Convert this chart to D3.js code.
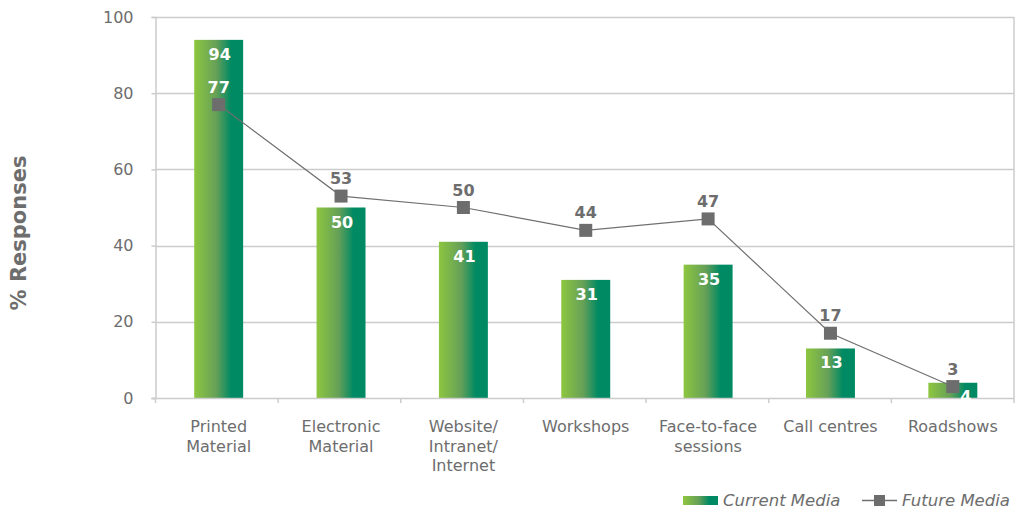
<!DOCTYPE html>
<html>
<head>
<meta charset="utf-8">
<script src="https://cdn.jsdelivr.net/npm/d3@7"></script>
<style>
  body { margin: 0; background: #fff; }
  text { font-family: "DejaVu Sans", Verdana, sans-serif; fill: #6d6d6d; }
</style>
</head>
<body>
<svg id="chart" width="1016" height="509"></svg>
<script>
const categories = [
  ["Printed", "Material"],
  ["Electronic", "Material"],
  ["Website/", "Intranet/", "Internet"],
  ["Workshops"],
  ["Face-to-face", "sessions"],
  ["Call centres"],
  ["Roadshows"]
];
const currentMedia = [94, 50, 41, 31, 35, 13, 4];
const futureMedia = [77, 53, 50, 44, 47, 17, 3];
const yTicks = [0, 20, 40, 60, 80, 100];

const width = 1016, height = 509;
const margin = { top: 17, right: 2, bottom: 111, left: 155.5 };
const grey = "#6d6d6d";
const gridColor = "#cccccc";

const svg = d3.select("#chart");

const defs = svg.append("defs");
const grad = defs.append("linearGradient").attr("id", "barGrad")
  .attr("x1", "0%").attr("x2", "100%").attr("y1", "0%").attr("y2", "0%");
grad.append("stop").attr("offset", "0%").attr("stop-color", "#8dc63f");
grad.append("stop").attr("offset", "45%").attr("stop-color", "#66a058");
grad.append("stop").attr("offset", "75%").attr("stop-color", "#008a63");
grad.append("stop").attr("offset", "100%").attr("stop-color", "#008a63");

const idx = d3.range(categories.length);

const xEdge = d3.scaleLinear()
  .domain([0, categories.length])
  .range([margin.left, width - margin.right]);

const x = d3.scaleBand()
  .domain(idx)
  .range([margin.left + 2, width - margin.right])
  .paddingInner(0.6)
  .paddingOuter(0.3);

const y = d3.scaleLinear()
  .domain([0, 100])
  .range([height - margin.bottom, margin.top]);

// gridlines
svg.append("g")
  .selectAll("line")
  .data(yTicks.filter(d => d > 0))
  .join("line")
  .attr("x1", margin.left)
  .attr("x2", width - margin.right)
  .attr("y1", d => Math.round(y(d)) + 0.5)
  .attr("y2", d => Math.round(y(d)) + 0.5)
  .attr("stroke", gridColor)
  .attr("stroke-width", 1.5);

// right border
svg.append("line")
  .attr("x1", width - margin.right).attr("x2", width - margin.right)
  .attr("y1", y(100)).attr("y2", y(0))
  .attr("stroke", gridColor).attr("stroke-width", 1.5);

// y axis
const yAxis = svg.append("g")
  .attr("transform", `translate(${margin.left},0)`)
  .call(d3.axisLeft(y).tickValues(yTicks).tickSize(4).tickPadding(18));
yAxis.select(".domain").attr("stroke", gridColor).attr("stroke-width", 1.5);
yAxis.selectAll(".tick line").attr("stroke", gridColor).attr("stroke-width", 1.5);
yAxis.selectAll(".tick text").attr("font-size", 16);

// bars
svg.append("g")
  .selectAll("rect")
  .data(currentMedia)
  .join("rect")
  .attr("x", (d, i) => x(i))
  .attr("y", d => y(d))
  .attr("width", x.bandwidth())
  .attr("height", d => y(0) - y(d))
  .attr("fill", "url(#barGrad)");

// x axis line and ticks
svg.append("line")
  .attr("x1", margin.left - 4).attr("x2", width - margin.right)
  .attr("y1", y(0) + 0.5).attr("y2", y(0) + 0.5)
  .attr("stroke", gridColor).attr("stroke-width", 1.5);
svg.append("g")
  .selectAll("line")
  .data(d3.range(categories.length + 1))
  .join("line")
  .attr("x1", d => xEdge(d)).attr("x2", d => xEdge(d))
  .attr("y1", y(0)).attr("y2", y(0) + 5)
  .attr("stroke", gridColor).attr("stroke-width", 1.5);

// category labels
svg.append("g")
  .selectAll("text")
  .data(categories)
  .join("text")
  .attr("text-anchor", "middle")
  .attr("font-size", 16)
  .attr("y", y(0) + 34)
  .each(function (lines, i) {
    d3.select(this).selectAll("tspan")
      .data(lines)
      .join("tspan")
      .attr("x", x(i) + x.bandwidth() / 2)
      .attr("dy", (d, j) => j === 0 ? 0 : 19.5)
      .text(d => d);
  });

const cx = i => x(i) + x.bandwidth() / 2;

// bar value labels (small bars: label pushed right of the marker)
svg.append("g")
  .selectAll("text")
  .data(currentMedia)
  .join("text")
  .attr("x", (d, i) => cx(i) + (d < 8 ? 13 : 1))
  .attr("y", d => d < 8 ? y(0) + 4 : y(d) + 20)
  .attr("text-anchor", "middle")
  .attr("font-size", 16)
  .attr("font-weight", "bold")
  .style("fill", "#fff")
  .text(d => d);

// future media line
svg.append("path")
  .datum(futureMedia)
  .attr("d", d3.line().x((d, i) => cx(i)).y(d => y(d)))
  .attr("fill", "none")
  .attr("stroke", "#707070")
  .attr("stroke-width", 1.2);

svg.append("g")
  .selectAll("rect")
  .data(futureMedia)
  .join("rect")
  .attr("x", (d, i) => cx(i) - 6.5)
  .attr("y", d => y(d) - 6.5)
  .attr("width", 13)
  .attr("height", 13)
  .attr("fill", grey);

svg.append("g")
  .selectAll("text")
  .data(futureMedia)
  .join("text")
  .attr("x", (d, i) => cx(i))
  .attr("y", d => y(d) - 12)
  .attr("text-anchor", "middle")
  .attr("font-size", 16)
  .attr("font-weight", "bold")
  .style("fill", (d, i) => y(d) - 24 > y(currentMedia[i]) ? "#fff" : grey)
  .text(d => d);

// y axis title
svg.append("text")
  .attr("transform", "translate(26,233) rotate(-90)")
  .attr("text-anchor", "middle")
  .attr("font-size", 21)
  .attr("font-weight", "bold")
  .text("% Responses");

// legend
const legend = svg.append("g");
legend.append("rect")
  .attr("x", 683).attr("y", 496).attr("width", 35).attr("height", 9)
  .attr("fill", "url(#barGrad)");
legend.append("text")
  .attr("x", 723).attr("y", 505.5)
  .attr("font-size", 16.5).attr("font-style", "italic")
  .text("Current Media");
legend.append("line")
  .attr("x1", 862).attr("x2", 897).attr("y1", 500.5).attr("y2", 500.5)
  .attr("stroke", "#707070").attr("stroke-width", 1.5);
legend.append("rect")
  .attr("x", 874).attr("y", 495).attr("width", 11).attr("height", 11)
  .attr("fill", grey);
legend.append("text")
  .attr("x", 902).attr("y", 505.5)
  .attr("font-size", 16.5).attr("font-style", "italic")
  .text("Future Media");
</script>
</body>
</html>
